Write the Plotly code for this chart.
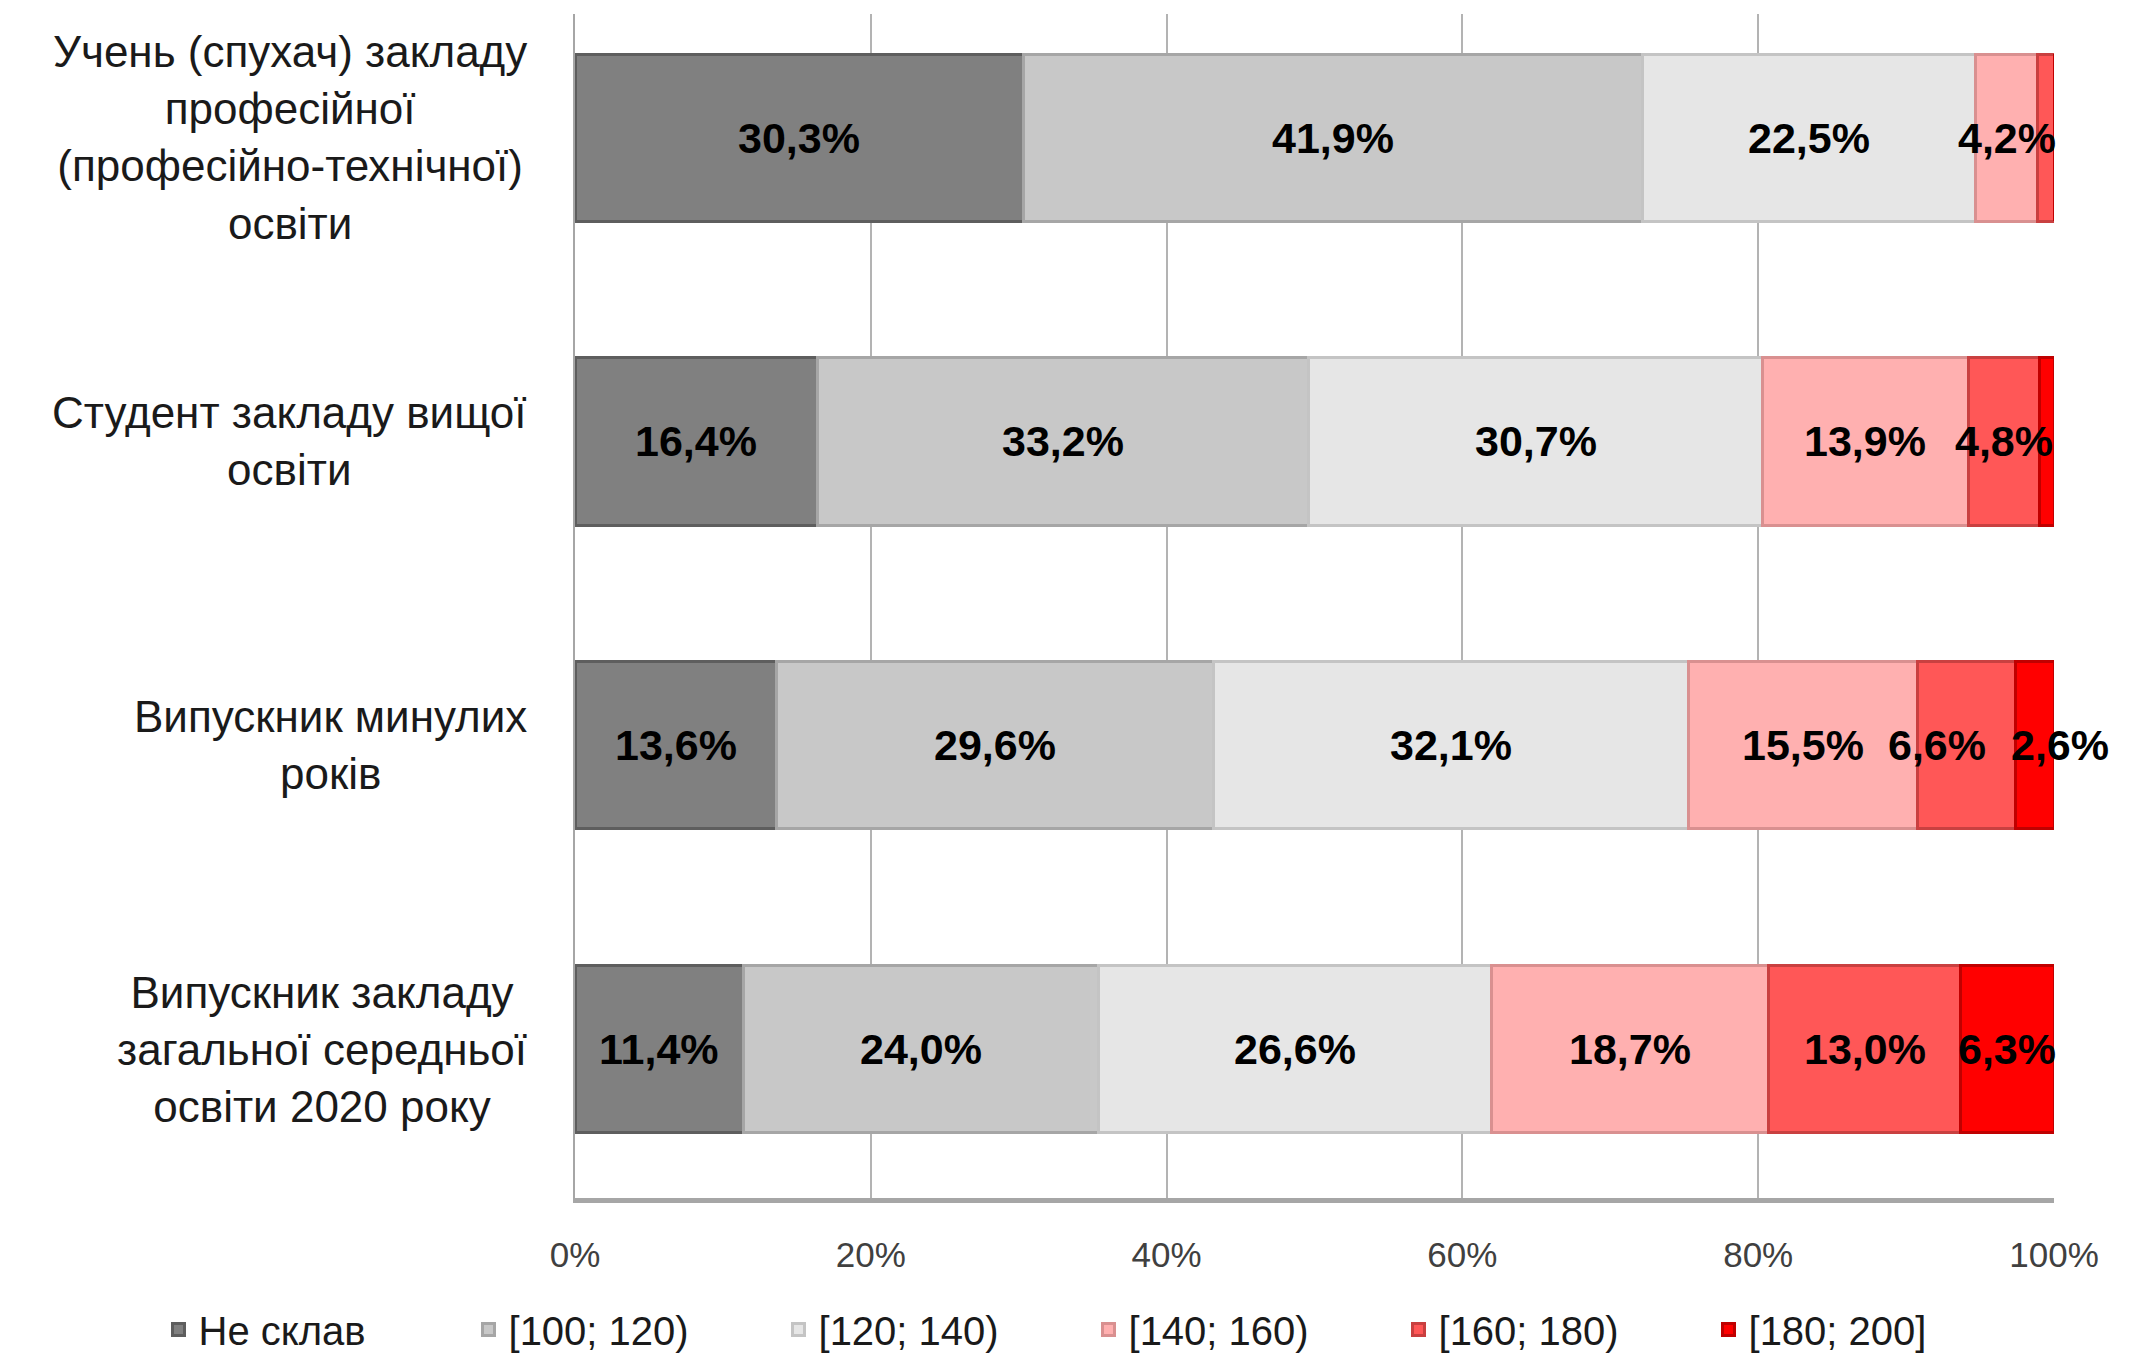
import plotly.graph_objects as go

# категорії (зверху вниз)
categories = [
    "Учень (спухач) закладу<br>професійної<br>(професійно-технічної)<br>освіти",
    "Студент закладу вищої<br>освіти",
    "Випускник минулих<br>років",
    "Випускник закладу<br>загальної середньої<br>освіти 2020 року",
]
series_names = ["Не склав", "[100; 120)", "[120; 140)", "[140; 160)", "[160; 180)", "[180; 200]"]

ne_sklav = [30.3, 16.4, 13.6, 11.4]
s100_120 = [41.9, 33.2, 29.6, 24.0]
s120_140 = [22.5, 30.7, 32.1, 26.6]
s140_160 = [4.2, 13.9, 15.5, 18.7]
s160_180 = [1.1, 4.8, 6.6, 13.0]
s180_200 = [0.0, 1.0, 2.6, 6.3]

# які підписи видно на діаграмі (найменші сегменти без підпису)
shown = [
    [True, True, True, True],
    [True, True, True, True],
    [True, True, True, True],
    [True, True, True, True],
    [False, True, True, True],
    [False, False, True, True],
]

tick_vals = [0, 20, 40, 60, 80, 100]
tick_text = ["0%", "20%", "40%", "60%", "80%", "100%"]

values = [ne_sklav, s100_120, s120_140, s140_160, s160_180, s180_200]
colors = ["#808080", "#c8c8c8", "#e6e6e6", "#ffb0b0", "#ff5757", "#ff0000"]
edges = ["#5e5e5e", "#a6a6a6", "#c4c4c4", "#d99090", "#c94040", "#c00000"]

# зсув підписів, що накладаються (серія, рядок) -> px
nudge = {(4, 2): -30, (5, 2): 25}

keys = [c.replace("<br>", " ") for c in categories]

fig = go.Figure()
for name, vals, col, edge in zip(series_names, values, colors, edges):
    fig.add_trace(go.Bar(
        y=keys, x=vals, name=name, orientation="h",
        marker=dict(color=col, line=dict(color=edge, width=3)),
        width=0.55,
    ))

# підписи значень
base = [0.0] * len(keys)
for i, (vals, show) in enumerate(zip(values, shown)):
    for j, (key, v, s) in enumerate(zip(keys, vals, show)):
        if s:
            fig.add_annotation(
                x=base[j] + v / 2, y=key, xref="x", yref="y",
                text=f"{v:.1f}%".replace(".", ","), showarrow=False,
                xshift=nudge.get((i, j), 0),
                font=dict(family="Liberation Sans", size=43, color="black", weight="bold"),
            )
        base[j] += v

# підписи категорій ліворуч
for key, label in zip(keys, categories):
    fig.add_annotation(
        x=-0.031, y=key, xref="paper", yref="y", text=label, showarrow=False,
        xanchor="right", align="center",
        font=dict(family="Liberation Sans", size=44, color="#1a1a1a"),
    )

fig.update_layout(
    barmode="stack",
    width=2137, height=1360,
    margin=dict(l=567, r=91, t=6, b=166),
    plot_bgcolor="white", paper_bgcolor="white",
    legend=dict(
        orientation="h", traceorder="normal",
        x=-0.2816, xanchor="left",
        y=-0.111, yanchor="middle",
        entrywidth=265, entrywidthmode="pixels",
        font=dict(family="Liberation Sans", size=40, color="#1a1a1a"),
    ),
    showlegend=True,
)
fig.update_xaxes(
    range=[0, 100], tickvals=tick_vals, ticktext=tick_text,
    showgrid=True, gridcolor="#b3b3b3", gridwidth=2,
    showline=True, linecolor="#a6a6a6", linewidth=5,
    zeroline=False, ticklabelstandoff=22, automargin=False,
    tickfont=dict(family="Liberation Sans", size=35, color="#404040"),
)
fig.update_yaxes(
    categoryorder="array", categoryarray=keys, range=[3.49, -0.407],
    showticklabels=False, showline=True, linecolor="#a6a6a6", linewidth=2,
    showgrid=False, automargin=False,
)

fig.write_html("out.html")
